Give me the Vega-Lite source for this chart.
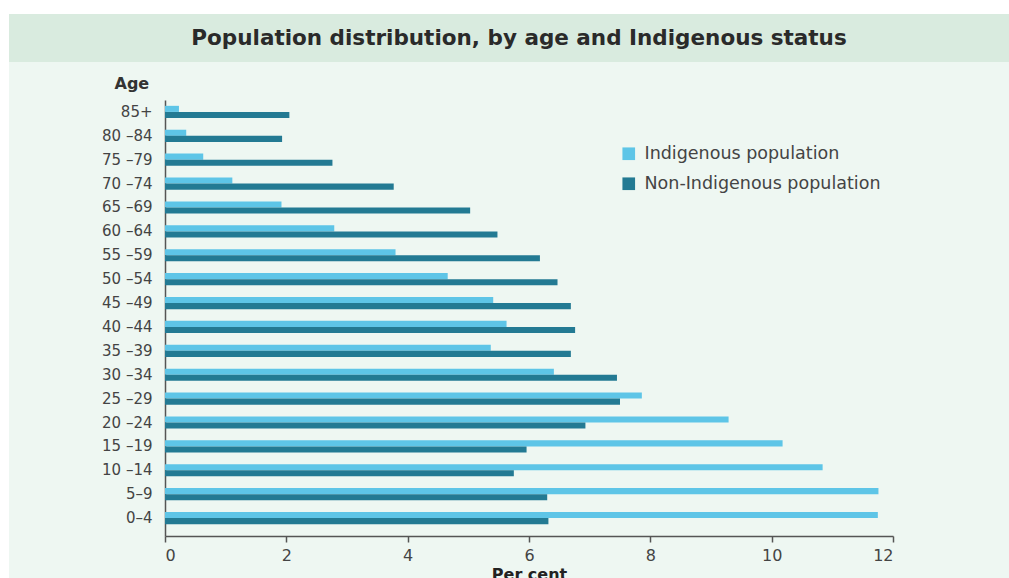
{
  "$schema": "https://vega.github.io/schema/vega-lite/v6.json",
  "background": "#ffffff",
  "padding": {"left": 9, "top": 14, "right": 0, "bottom": 0},
  "spacing": 0,
  "config": {
    "view": {"stroke": null},
    "font": "DejaVu Sans"
  },
  "datasets": {
    "heading": [{"text": "Population distribution, by age and Indigenous status"}],
    "population": [
      {"age": "85+", "group": "Indigenous population", "pct": 0.23},
      {"age": "85+", "group": "Non-Indigenous population", "pct": 2.05},
      {"age": "80 –84", "group": "Indigenous population", "pct": 0.35},
      {"age": "80 –84", "group": "Non-Indigenous population", "pct": 1.93},
      {"age": "75 –79", "group": "Indigenous population", "pct": 0.63},
      {"age": "75 –79", "group": "Non-Indigenous population", "pct": 2.76},
      {"age": "70 –74", "group": "Indigenous population", "pct": 1.11},
      {"age": "70 –74", "group": "Non-Indigenous population", "pct": 3.77},
      {"age": "65 –69", "group": "Indigenous population", "pct": 1.92},
      {"age": "65 –69", "group": "Non-Indigenous population", "pct": 5.03},
      {"age": "60 –64", "group": "Indigenous population", "pct": 2.79},
      {"age": "60 –64", "group": "Non-Indigenous population", "pct": 5.48},
      {"age": "55 –59", "group": "Indigenous population", "pct": 3.80},
      {"age": "55 –59", "group": "Non-Indigenous population", "pct": 6.18},
      {"age": "50 –54", "group": "Indigenous population", "pct": 4.66},
      {"age": "50 –54", "group": "Non-Indigenous population", "pct": 6.47},
      {"age": "45 –49", "group": "Indigenous population", "pct": 5.41},
      {"age": "45 –49", "group": "Non-Indigenous population", "pct": 6.69},
      {"age": "40 –44", "group": "Indigenous population", "pct": 5.63},
      {"age": "40 –44", "group": "Non-Indigenous population", "pct": 6.76},
      {"age": "35 –39", "group": "Indigenous population", "pct": 5.37},
      {"age": "35 –39", "group": "Non-Indigenous population", "pct": 6.69},
      {"age": "30 –34", "group": "Indigenous population", "pct": 6.41},
      {"age": "30 –34", "group": "Non-Indigenous population", "pct": 7.45},
      {"age": "25 –29", "group": "Indigenous population", "pct": 7.86},
      {"age": "25 –29", "group": "Non-Indigenous population", "pct": 7.50},
      {"age": "20 –24", "group": "Indigenous population", "pct": 9.29},
      {"age": "20 –24", "group": "Non-Indigenous population", "pct": 6.93},
      {"age": "15 –19", "group": "Indigenous population", "pct": 10.18},
      {"age": "15 –19", "group": "Non-Indigenous population", "pct": 5.96},
      {"age": "10 –14", "group": "Indigenous population", "pct": 10.84},
      {"age": "10 –14", "group": "Non-Indigenous population", "pct": 5.75},
      {"age": "5–9", "group": "Indigenous population", "pct": 11.76},
      {"age": "5–9", "group": "Non-Indigenous population", "pct": 6.30},
      {"age": "0–4", "group": "Indigenous population", "pct": 11.75},
      {"age": "0–4", "group": "Non-Indigenous population", "pct": 6.32}
    ]
  },
  "vconcat": [
    {
      "width": 1000,
      "height": 48,
      "view": {"fill": "#d9ebdf", "stroke": null},
      "data": {"name": "heading"},
      "mark": {
        "type": "text",
        "font": "DejaVu Sans",
        "fontWeight": "bold",
        "fontSize": 21.5,
        "color": "#2a2a2a",
        "align": "center",
        "baseline": "middle",
        "dx": 10,
        "dy": 1
      },
      "encoding": {"text": {"field": "text"}}
    },
    {
      "width": 1000,
      "height": 516,
      "view": {"fill": "#eef7f2", "stroke": null},
      "data": {"name": "population"},
      "mark": {"type": "bar"},
      "encoding": {
        "y": {
          "field": "age",
          "type": "nominal",
          "sort": null,
          "scale": {"range": [38, 474], "paddingInner": 0.49, "paddingOuter": 0.37, "align": 0.33},
          "axis": {
            "title": "Age",
            "titleAngle": 0,
            "titleFontWeight": "bold",
            "titleFontSize": 16,
            "titleColor": "#333333",
            "titleAlign": "left",
            "titleBaseline": "middle",
            "titleX": -51,
            "titleY": 21,
            "offset": -156,
            "ticks": false,
            "labelPadding": 13,
            "labelFontSize": 15,
            "labelColor": "#444444",
            "domainColor": "#555555",
            "domainWidth": 1.5
          }
        },
        "yOffset": {
          "field": "group",
          "type": "nominal",
          "sort": ["Indigenous population", "Non-Indigenous population"],
          "scale": {"paddingInner": 0, "paddingOuter": 0}
        },
        "x": {
          "field": "pct",
          "type": "quantitative",
          "scale": {"domain": [0, 12], "range": [156, 884], "nice": false},
          "axis": {
            "title": "Per cent",
            "values": [0, 2, 4, 6, 8, 10, 12],
            "grid": false,
            "offset": -42,
            "tickSize": 6,
            "tickWidth": 1.5,
            "tickColor": "#555555",
            "domainColor": "#555555",
            "domainWidth": 1.5,
            "labelFontSize": 16,
            "labelColor": "#444444",
            "labelPadding": 5,
            "titleFontSize": 16,
            "titleFontWeight": "bold",
            "titleColor": "#222222",
            "titlePadding": 3
          }
        },
        "color": {
          "field": "group",
          "type": "nominal",
          "sort": ["Indigenous population", "Non-Indigenous population"],
          "scale": {"range": ["#5ec5e7", "#237a93"]},
          "legend": {
            "title": null,
            "orient": "none",
            "legendX": 611,
            "legendY": 131,
            "symbolType": "square",
            "symbolSize": 160,
            "symbolStrokeWidth": 0,
            "labelFontSize": 17.5,
            "labelColor": "#444444",
            "labelOffset": 7,
            "labelLimit": 0,
            "rowPadding": 11,
            "padding": 0
          }
        }
      }
    }
  ]
}
